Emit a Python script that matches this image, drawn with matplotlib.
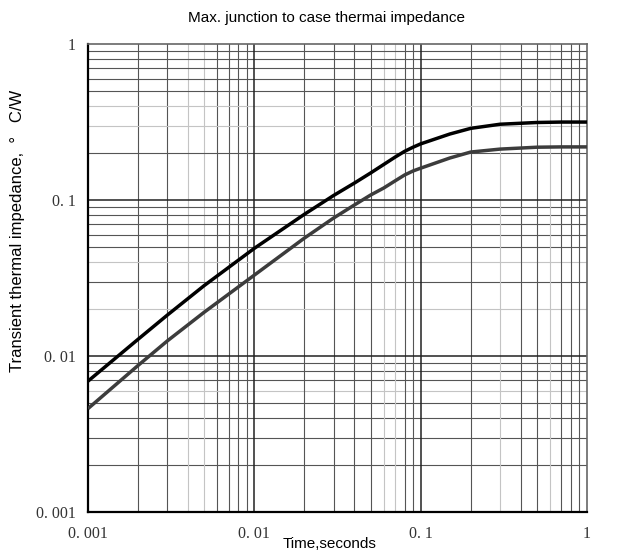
import matplotlib
matplotlib.use('Agg')
import matplotlib.pyplot as plt
from matplotlib.ticker import FixedLocator, NullFormatter

# transient thermal impedance curves
t_sec = [0.001, 0.002, 0.003, 0.005, 0.01, 0.02, 0.03, 0.04, 0.05, 0.06,
         0.07, 0.08, 0.09, 0.1, 0.15, 0.2, 0.3, 0.5, 0.7, 1.0]
z_upper = [0.0069, 0.0128, 0.0183, 0.0283, 0.049, 0.081, 0.107, 0.1285,
           0.149, 0.169, 0.188, 0.205, 0.218, 0.229, 0.265, 0.288, 0.306,
           0.314, 0.316, 0.316]
z_lower = [0.0046, 0.0087, 0.0125, 0.0191, 0.033, 0.057, 0.0767, 0.093,
           0.1076, 0.1194, 0.1324, 0.1446, 0.1535, 0.160, 0.186, 0.203,
           0.212, 0.218, 0.219, 0.219]

major_vals = [0.001, 0.01, 0.1, 1]
major_text = ['0. 001', '0. 01', '0. 1', '1']

# minor grid lines that are printed lighter
light_x = [0.004, 0.005, 0.06, 0.07, 0.3, 0.6]
light_y = [0.006, 0.02, 0.04, 0.3, 0.4]

fig = plt.figure(figsize=(6.21, 5.6), dpi=100)
ax = fig.add_axes([0.1417, 0.0857, 0.8035, 0.8357])
ax.set_xscale('log')
ax.set_yscale('log')
ax.set_xlim(0.001, 1)
ax.set_ylim(0.001, 1)

for dec in [0.001, 0.01, 0.1]:
    for m in range(2, 10):
        v = round(dec * m, 6)
        xc = '#c4c4c4' if v in light_x else '#555555'
        yc = '#c4c4c4' if v in light_y else '#555555'
        ax.axvline(v, color=xc, lw=0.8, zorder=1)
        ax.axhline(v, color=yc, lw=0.8, zorder=1)
for v in major_vals[1:-1]:
    ax.axvline(v, color='#222222', lw=1.1, zorder=1)
    ax.axhline(v, color='#222222', lw=1.1, zorder=1)

ax.plot(t_sec, z_upper, color='#000000', lw=2.5, zorder=3,
        solid_joinstyle='round', solid_capstyle='butt')
ax.plot(t_sec, z_lower, color='#3c3c3c', lw=2.5, zorder=3,
        solid_joinstyle='round', solid_capstyle='butt')

ax.xaxis.set_major_locator(FixedLocator(major_vals))
ax.yaxis.set_major_locator(FixedLocator(major_vals))
ax.xaxis.set_minor_formatter(NullFormatter())
ax.yaxis.set_minor_formatter(NullFormatter())
ax.set_xticklabels(major_text, family='Liberation Serif', fontsize=11.5,
                   color='#333333')
ax.set_yticklabels(major_text, family='Liberation Serif', fontsize=11.5,
                   color='#333333')
ax.tick_params(which='both', length=0)
ax.tick_params(axis='x', pad=10)
ax.tick_params(axis='y', pad=9)

for side in ['left', 'bottom']:
    ax.spines[side].set_linewidth(1.6)
    ax.spines[side].set_color('#000000')
for side in ['top', 'right']:
    ax.spines[side].set_linewidth(1.2)
    ax.spines[side].set_color('#666666')

sans = ['Liberation Sans', 'DejaVu Sans']
fig.text(0.525, 0.968, 'Max. junction to case thermai impedance',
         family=sans, fontsize=11, ha='center', va='center')
ax.set_xlabel('Time,seconds', family=sans, fontsize=11)
ax.xaxis.set_label_coords(0.484, -0.054)
ax.set_ylabel('Transient thermal impedance,  \u00b0   C/W', family=sans,
              fontsize=12)
ax.yaxis.set_label_coords(-0.126, 0.6)

fig.savefig('out.png', dpi=100)
